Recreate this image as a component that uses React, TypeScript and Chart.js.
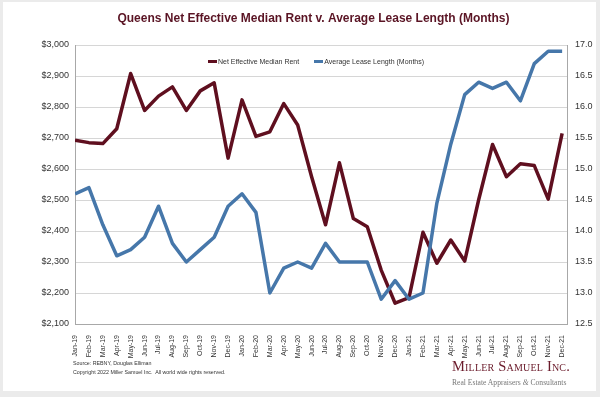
import React, { useEffect, useRef } from "react";
import { Chart, registerables } from "chart.js";

Chart.register(...registerables);

const months = [
  "Jan-19", "Feb-19", "Mar-19", "Apr-19", "May-19", "Jun-19", "Jul-19", "Aug-19", "Sep-19", "Oct-19", "Nov-19", "Dec-19",
  "Jan-20", "Feb-20", "Mar-20", "Apr-20", "May-20", "Jun-20", "Jul-20", "Aug-20", "Sep-20", "Oct-20", "Nov-20", "Dec-20",
  "Jan-21", "Feb-21", "Mar-21", "Apr-21", "May-21", "Jun-21", "Jul-21", "Aug-21", "Sep-21", "Oct-21", "Nov-21", "Dec-21",
];

const rentValues = [
  2693, 2685, 2682, 2730, 2908, 2789, 2835, 2865, 2789, 2852, 2878, 2635,
  2823, 2705, 2720, 2811, 2742, 2575, 2420, 2620, 2440, 2414, 2274, 2167,
  2185, 2396, 2296, 2371, 2303, 2500, 2679, 2575, 2617, 2611, 2503, 2715,
];

const leaseValues = [
  14.6, 14.7, 14.1, 13.6, 13.7, 13.9, 14.4, 13.8, 13.5, 13.7, 13.9, 14.4,
  14.6, 14.3, 13.0, 13.4, 13.5, 13.4, 13.8, 13.5, 13.5, 13.5, 12.9, 13.2,
  12.9, 13.0, 14.45, 15.4, 16.2, 16.4, 16.3, 16.4, 16.1, 16.7, 16.9, 16.9,
];

const titleText = "Queens Net Effective Median Rent v. Average Lease Length (Months)";
const rentLabel = "Net Effective Median Rent";
const leaseLabel = "Average Lease Length (Months)";

const SANS = '"Liberation Sans", Arial, Helvetica, sans-serif';
const SERIF = '"Liberation Serif", "Times New Roman", serif';
const MAROON = "#5f0f1f";
const BLUE = "#4677aa";

export default function App() {
  const canvasRef = useRef<HTMLCanvasElement | null>(null);

  useEffect(() => {
    const canvas = canvasRef.current;
    if (!canvas) return;
    const chart = new Chart(canvas, {
      type: "line",
      data: {
        datasets: [
          {
            label: rentLabel,
            data: rentValues.map((v, i) => ({ x: i, y: v })),
            borderColor: MAROON,
            backgroundColor: MAROON,
            borderWidth: 3.5,
            pointRadius: 0,
            borderJoinStyle: "round",
            yAxisID: "rent",
            order: 2,
          },
          {
            label: leaseLabel,
            data: leaseValues.map((v, i) => ({ x: i, y: v })),
            borderColor: BLUE,
            backgroundColor: BLUE,
            borderWidth: 3.5,
            pointRadius: 0,
            borderJoinStyle: "round",
            yAxisID: "lease",
            order: 1,
          },
        ],
      },
      options: {
        responsive: false,
        animation: false,
        devicePixelRatio: 1,
        layout: { padding: { left: 27, right: 0, top: 0, bottom: 0 } },
        plugins: {
          title: {
            display: true,
            text: titleText,
            color: "#5a1424",
            font: { family: SANS, size: 12, weight: "bold" },
            padding: { top: 11, bottom: 19.6 },
          },
          legend: { display: false },
          tooltip: { enabled: false },
        },
        scales: {
          x: {
            type: "linear",
            min: 0,
            max: 35.35,
            afterBuildTicks: (scale: any) => {
              scale.ticks = months.map((_, i) => ({ value: i }));
            },
            afterFit: (scale: any) => {
              scale.height = 73;
            },
            ticks: {
              autoSkip: false,
              maxRotation: 90,
              minRotation: 90,
              padding: 3,
              color: "#333",
              font: { family: SANS, size: 7 },
              callback: (v: any) => months[v] ?? "",
            },
            grid: { display: false },
            border: { display: true, color: "#a8a8a8", width: 1 },
          },
          rent: {
            type: "linear",
            position: "left",
            min: 2100,
            max: 3000,
            afterFit: (scale: any) => {
              scale.width = 48;
            },
            ticks: {
              stepSize: 100,
              padding: 6,
              color: "#333",
              font: { family: SANS, size: 9 },
              callback: (v: any) => "$" + Number(v).toLocaleString("en-US"),
            },
            grid: { color: "#d6d6d6", lineWidth: 1, drawTicks: false },
            border: { display: true, color: "#a8a8a8", width: 1 },
          },
          lease: {
            type: "linear",
            position: "right",
            min: 12.5,
            max: 17,
            afterFit: (scale: any) => {
              scale.width = 33;
            },
            ticks: {
              stepSize: 0.5,
              padding: 8,
              color: "#333",
              font: { family: SANS, size: 9 },
              callback: (v: any) => Number(v).toFixed(1),
            },
            grid: { display: false, drawTicks: false },
            border: { display: true, color: "#a8a8a8", width: 1 },
          },
        },
      },
    } as any);
    return () => chart.destroy();
  }, []);

  const legendItem = (color: string, text: string) => (
    <div style={{ display: "flex", alignItems: "center" }}>
      <div style={{ width: 9, height: 3, background: color, marginRight: 1 }} />
      <span>{text}</span>
    </div>
  );

  return (
    <div style={{ position: "fixed", left: 0, top: 0, width: 600, height: 397, background: "#ebebeb", overflow: "hidden" }}>
      <div style={{ position: "absolute", left: 3, top: 2, width: 593, height: 389, background: "#ffffff" }} />
      <canvas ref={canvasRef} width={600} height={397} style={{ position: "absolute", left: 0, top: 0, width: 600, height: 397, display: "block" }} />
      <div
        style={{
          position: "absolute",
          left: 208,
          top: 56,
          height: 10,
          display: "flex",
          alignItems: "center",
          gap: 15,
          fontFamily: SANS,
          fontSize: 7,
          color: "#333",
          whiteSpace: "nowrap",
        }}
      >
        {legendItem(MAROON, rentLabel)}
        {legendItem(BLUE, leaseLabel)}
      </div>
      <div style={{ position: "absolute", left: 73, top: 359, fontFamily: SANS, fontSize: 5.3, color: "#333", lineHeight: "8.5px", whiteSpace: "nowrap" }}>
        <div>Source: REBNY, Douglas Elliman</div>
        <div>Copyright 2022 Miller Samuel Inc.&nbsp; All world wide rights reserved.</div>
      </div>
      <div style={{ position: "absolute", left: 452, top: 358, fontFamily: SERIF, fontSize: 14.5, color: "#6a1a2a", fontVariant: "small-caps", lineHeight: "16px", whiteSpace: "nowrap", letterSpacing: 0.2 }}>
        Miller Samuel Inc.
      </div>
      <div style={{ position: "absolute", left: 452, top: 378, fontFamily: SERIF, fontSize: 7.6, color: "#777", lineHeight: "10px", whiteSpace: "nowrap" }}>
        Real Estate Appraisers <i>&amp;</i> Consultants
      </div>
    </div>
  );
}
